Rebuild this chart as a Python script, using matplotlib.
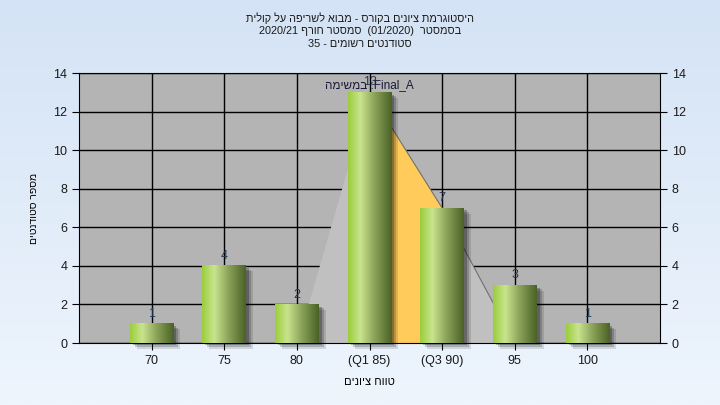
import numpy as np
import matplotlib
matplotlib.use('Agg')
import matplotlib.pyplot as plt
from matplotlib import transforms
from matplotlib.colors import LinearSegmentedColormap
from matplotlib.patches import Rectangle

# Data (Hebrew strings are stored in visual left-to-right order)
categories = ['70', '75', '80', '(Q1 85)', '(Q3 90)', '95', '100']
counts = [1, 4, 2, 13, 7, 3, 1]
curve_idx = [2, 3, 4, 5]
curve_vals = [0, 13, 7, 0]
q1_idx, q3_idx = 3, 4
title_lines = ['תילוק לע הפירשל אובמ - סרוקב םינויצ תמרגוטסיה',
               '2020/21 ףרוח רטסמס  (01/2020)  רטסמסב',
               '35 - םימושר םיטנדוטס']
xlabel = 'םינויצ חווט'
ylabel = 'םיטנדוטס רפסמ'
note = 'המישמב :Final_A'

plt.rcParams['font.family'] = ['Liberation Sans', 'DejaVu Sans']

fig = plt.figure(figsize=(7.2, 4.05), dpi=100)

# background gradient for the whole figure
bg = fig.add_axes([0, 0, 1, 1], zorder=-10)
bg_cmap = LinearSegmentedColormap.from_list('bg', ['#eef5fd', '#d4e3f5'])
bg.imshow(np.linspace(0, 1, 256).reshape(-1, 1), cmap=bg_cmap, aspect='auto',
          origin='lower', extent=[0, 1, 0, 1])
bg.axis('off')

ax = fig.add_axes([79 / 720, 62 / 405, 581 / 720, 270 / 405])
ax.set_facecolor('#b4b4b4')
x = np.arange(len(categories))

# grid
for xi in x:
    ax.axvline(xi, color='black', lw=1, zorder=0.5)
for yv in range(0, 15, 2):
    ax.axhline(yv, color='black', lw=1, zorder=0.5)

# distribution area
cx = np.array(curve_idx, dtype=float)
cy = np.array(curve_vals, dtype=float)
ax.fill_between(cx, cy, color='#c0c0c0', zorder=1, lw=0)
mask = (cx >= q1_idx) & (cx <= q3_idx)
ax.fill_between(cx[mask], cy[mask], color='#ffcc5c', zorder=1.1, lw=0)
ax.plot(cx[1:], cy[1:], color='#707070', lw=0.8, zorder=1.2)

# bars
bars = ax.bar(x, counts, width=0.6, color='none', zorder=3)
grad = LinearSegmentedColormap.from_list(
    'bar', [(0, '#9ccd3c'), (0.28, '#c8e48e'), (0.6, '#8ca45a'), (1, '#4a6226')])
for b, v in zip(bars, counts):
    x0, w, h = b.get_x(), b.get_width(), b.get_height()
    # shadow
    for k, a in [(7, 0.12), (5, 0.18), (3, 0.25)]:
        tr = transforms.offset_copy(ax.transData, fig=fig, x=k, y=-k * 0.8,
                                    units='dots')
        ax.add_patch(Rectangle((x0, 0), w, h, transform=tr, color='black',
                               alpha=a, lw=0, zorder=2, clip_on=False))
    ax.imshow(np.linspace(0, 1, 128).reshape(1, -1), cmap=grad,
              aspect='auto', extent=[x0, x0 + w, 0, h], zorder=3)
    ax.text(b.get_x() + w / 2, h + 0.2, str(v), ha='center', va='bottom',
            fontsize=9, color='#233a52', zorder=5)

ax.text(3, 13.38, note, ha='center', va='center', fontsize=8.5,
        color='#1a1a3a', zorder=5)

ax.set_xlim(-1, 7)
ax.set_ylim(0, 14)
ax.set_xticks(x)
ax.set_xticklabels(categories)
ax.set_yticks(range(0, 15, 2))
ax.tick_params(axis='both', direction='out', length=5, color='black',
               labelsize=9, labelcolor='#1a1a1a')
ax.tick_params(axis='y', right=True, labelright=True)
for s in ax.spines.values():
    s.set_color('black')

ax.set_xlabel(xlabel, fontsize=8, labelpad=7)
ax.set_ylabel(ylabel, fontsize=7.5, labelpad=10)

for i, line in enumerate(title_lines):
    fig.text(0.5, 1 - (18 + 13 * i) / 405, line, ha='center', va='center',
             fontsize=7.8, color='#1a1a1a')

fig.savefig('out.png', dpi=100)
